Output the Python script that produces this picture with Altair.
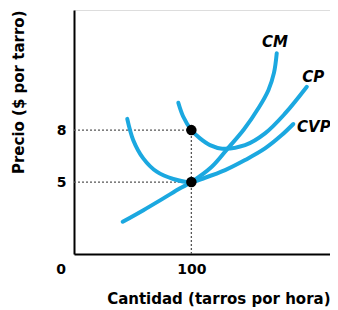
import altair as alt
import pandas as pd

# Curves (Cantidad, Precio)
cm_x = [53.2, 67.3, 80.9, 92.3, 100, 113.9, 125.0, 135.9, 146.0, 152.5, 156.3, 158.2]
cm_y = [2.71, 3.38, 4.06, 4.64, 5.0, 5.88, 6.96, 8.05, 9.3, 10.3, 11.3, 12.44]

cp_x = [91.1, 94.5, 100, 105.9, 112.7, 121.0, 136.6, 150.2, 163.9, 178.7]
cp_y = [9.58, 8.77, 8.0, 7.52, 7.13, 6.93, 7.13, 7.81, 8.96, 10.5]

cvp_x = [56.3, 60.4, 67.2, 76.4, 87.7, 100, 109.3, 123.0, 136.6, 150.2, 161.6, 169.5]
cvp_y = [8.65, 7.42, 6.37, 5.60, 5.18, 5.0, 5.25, 5.69, 6.27, 6.94, 7.71, 8.35]

curve_names = ["CM", "CP", "CVP"]
label_x = [157.0, 183.0, 183.5]
label_y = [13.08, 11.06, 8.17]

point_x = [100, 100]
point_y = [8, 5]

x_ticks = [100]
y_ticks = [5, 8]

X_DOMAIN = [20, 194.5]
Y_DOMAIN = [0.85, 14.93]

BLUE = "#1ba8e0"
FONT = "DejaVu Sans"
FS = 14
TFS = 15

rows = []
for name, xs, ys in zip(curve_names, [cm_x, cp_x, cvp_x], [cm_y, cp_y, cvp_y]):
    for i, (a, b) in enumerate(zip(xs, ys)):
        rows.append({"curve": name, "q": a, "p": b, "o": i})
curves = pd.DataFrame(rows)

labels = pd.DataFrame({"name": curve_names, "q": label_x, "p": label_y})
pts = pd.DataFrame({"q": point_x, "p": point_y})

guides = pd.DataFrame({
    "q": [X_DOMAIN[0], X_DOMAIN[0], point_x[0]],
    "q2": [point_x[0], point_x[1], point_x[0]],
    "p": [point_y[0], point_y[1], Y_DOMAIN[0]],
    "p2": [point_y[0], point_y[1], point_y[0]],
})

xs = alt.Scale(domain=X_DOMAIN, nice=False, zero=False)
ys = alt.Scale(domain=Y_DOMAIN, nice=False, zero=False)

xax = alt.Axis(values=x_ticks, ticks=False, grid=False, labelPadding=8,
               title="Cantidad (tarros por hora)", titleAnchor="end",
               titlePadding=15, labelFontSize=FS, titleFontSize=TFS,
               labelFont=FONT, titleFont=FONT, labelFontWeight="bold",
               titleFontWeight="bold", labelColor="black", titleColor="black",
               domainColor="black", domainWidth=2)
yax = alt.Axis(values=y_ticks, ticks=False, grid=False, labelPadding=8,
               title="Precio ($ por tarro)", titleAnchor="end",
               titlePadding=30, labelFontSize=FS, titleFontSize=TFS,
               labelFont=FONT, titleFont=FONT, labelFontWeight="bold",
               titleFontWeight="bold", labelColor="black", titleColor="black",
               domainColor="black", domainWidth=2)

guide_layer = alt.Chart(guides).mark_rule(
    color="#555555", strokeDash=[2, 2], strokeWidth=1.3
).encode(
    x=alt.X("q:Q", scale=xs, axis=xax),
    x2="q2:Q",
    y=alt.Y("p:Q", scale=ys, axis=yax),
    y2="p2:Q",
)

curve_layer = alt.Chart(curves).mark_line(
    color=BLUE, strokeWidth=4, interpolate="catmull-rom", strokeCap="round"
).encode(
    x=alt.X("q:Q", scale=xs),
    y=alt.Y("p:Q", scale=ys),
    detail="curve:N",
    order="o:Q",
)

point_layer = alt.Chart(pts).mark_point(
    filled=True, color="black", size=110, opacity=1
).encode(x=alt.X("q:Q", scale=xs), y=alt.Y("p:Q", scale=ys))

label_layer = alt.Chart(labels).mark_text(
    font=FONT, fontSize=TFS, fontWeight="bold", fontStyle="italic",
    color="black", align="center", baseline="middle"
).encode(x=alt.X("q:Q", scale=xs), y=alt.Y("p:Q", scale=ys), text="name:N")

zero_layer = alt.Chart(pd.DataFrame({"t": ["0"]})).mark_text(
    font=FONT, fontSize=FS, fontWeight="bold", color="black",
    align="center", baseline="middle"
).encode(x=alt.value(-13), y=alt.value(260), text="t:N")

chart = alt.layer(
    guide_layer, curve_layer, point_layer, label_layer, zero_layer
).properties(
    width=256, height=244,
    autosize=alt.AutoSizeParams(type="none"),
    padding={"left": 66, "top": 2, "right": 0, "bottom": 56},
).configure_view(stroke=None).configure(background="white")

chart.save("out.html", embed_options={"renderer": "svg", "actions": False})
